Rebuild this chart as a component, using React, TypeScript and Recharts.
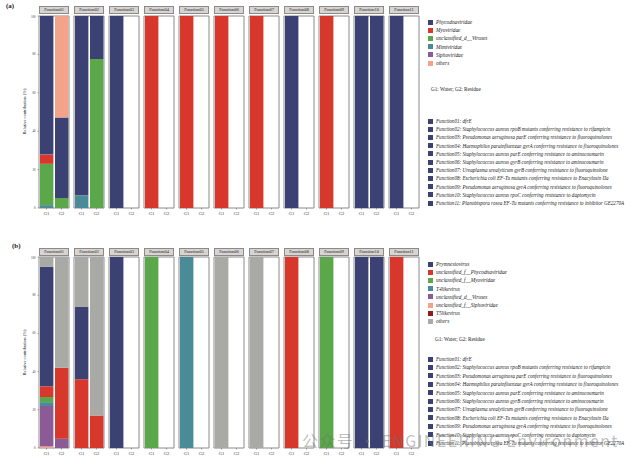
import React from 'react'
import { BarChart, Bar, XAxis, YAxis, ReferenceArea } from 'recharts'

const functions = ['Function01', 'Function02', 'Function03', 'Function04', 'Function05', 'Function06', 'Function07', 'Function08', 'Function09', 'Function10', 'Function11']
const groups = ['G1', 'G2']
const yTicks = [0, 20, 40, 60, 80, 100]

const functionNames = [
  'Function01: dfrE',
  'Function02: Staphylococcus aureus rpoB mutants conferring resistance to rifampicin',
  'Function03: Pseudomonas aeruginosa parE conferring resistance to fluoroquinolones',
  'Function04: Haemophilus parainfluenzae gyrA conferring resistance to fluoroquinolones',
  'Function05: Staphylococcus aureus parE conferring resistance to aminocoumarin',
  'Function06: Staphylococcus aureus gyrB conferring resistance to aminocoumarin',
  'Function07: Ureaplasma urealyticum gyrB conferring resistance to fluoroquinolone',
  'Function08: Escherichia coli EF-Tu mutants conferring resistance to Enacyloxin IIa',
  'Function09: Pseudomonas aeruginosa gyrA conferring resistance to fluoroquinolones',
  'Function10: Staphylococcus aureus rpoC conferring resistance to daptomycin',
  'Function11: Planobispora rosea EF-Tu mutants conferring resistance to inhibitor GE2270A',
]

// panel (a) — values per species, ordered F01G1, F01G2, F02G1, F02G2 ... F11G2
const speciesA = ['Phycodnaviridae', 'Myoviridae', 'unclassified_d__Viruses', 'Mimiviridae', 'Siphoviridae', 'others']
const colorsA = ['#3b4273', '#d8382c', '#5aa84a', '#4a8b97', '#8b5b95', '#f4a38b']
const phycodA = [72.2, 42, 93.4, 22.4, 100, 0, 0, 0, 0, 0, 0, 0, 0, 0, 100, 0, 0, 0, 100, 100, 100, 0]
const myoA = [4.8, 0, 0, 0, 0, 0, 100, 0, 100, 0, 100, 0, 100, 0, 0, 0, 100, 0, 0, 0, 0, 0]
const unclVirA = [21.5, 5.2, 0, 77.6, 0, 0, 0, 0, 0, 0, 0, 0, 0, 0, 0, 0, 0, 0, 0, 0, 0, 0]
const mimiA = [1.5, 0, 6.6, 0, 0, 0, 0, 0, 0, 0, 0, 0, 0, 0, 0, 0, 0, 0, 0, 0, 0, 0]
const siphoA = [0, 0, 0, 0, 0, 0, 0, 0, 0, 0, 0, 0, 0, 0, 0, 0, 0, 0, 0, 0, 0, 0]
const othersA = [0, 52.8, 0, 0, 0, 0, 0, 0, 0, 0, 0, 0, 0, 0, 0, 0, 0, 0, 0, 0, 0, 0]
const seriesA = [phycodA, myoA, unclVirA, mimiA, siphoA, othersA]
const stackOrderA = [4, 3, 2, 1, 0, 5] // bottom -> top

// panel (b)
const speciesB = ['Prymnesiovirus', 'unclassified_f__Phycodnaviridae', 'unclassified_f__Myoviridae', 'T4likevirus', 'unclassified_d__Viruses', 'unclassified_f__Siphoviridae', 'T5likevirus', 'others']
const colorsB = ['#3b4273', '#d8382c', '#5aa84a', '#4a8b97', '#8b5b95', '#f4a38b', '#8c1d1d', '#a9a9a5']
const prymB = [62.5, 0, 37.8, 0, 100, 0, 0, 0, 0, 0, 0, 0, 0, 0, 0, 0, 0, 0, 100, 100, 0, 0]
const unclPhycoB = [5.6, 37.1, 36, 17, 0, 0, 0, 0, 0, 0, 0, 0, 0, 0, 100, 0, 0, 0, 0, 0, 100, 0]
const unclMyoB = [2.7, 0, 0, 0, 0, 0, 100, 0, 0, 0, 0, 0, 0, 0, 0, 0, 100, 0, 0, 0, 0, 0]
const t4B = [2, 0, 0, 0, 0, 0, 0, 0, 100, 0, 0, 0, 0, 0, 0, 0, 0, 0, 0, 0, 0, 0]
const unclVirB = [21.2, 4.9, 0, 0, 0, 0, 0, 0, 0, 0, 0, 0, 0, 0, 0, 0, 0, 0, 0, 0, 0, 0]
const unclSiphoB = [0.8, 0, 0, 0, 0, 0, 0, 0, 0, 0, 0, 0, 0, 0, 0, 0, 0, 0, 0, 0, 0, 0]
const t5B = [0, 0, 0, 0, 0, 0, 0, 0, 0, 0, 0, 0, 0, 0, 0, 0, 0, 0, 0, 0, 0, 0]
const othersB = [5.2, 58, 26.2, 83, 0, 0, 0, 0, 0, 0, 100, 0, 100, 0, 0, 0, 0, 0, 0, 0, 0, 0]
const seriesB = [prymB, unclPhycoB, unclMyoB, t4B, unclVirB, unclSiphoB, t5B, othersB]
const stackOrderB = [6, 5, 4, 3, 2, 1, 0, 7]

const serif = '"Liberation Serif", "DejaVu Serif", serif'
const FX = 39
const PITCH = 35
const FW = 30
const YW = 10

function Facet({ idx, names, colors, series, order, top, plotH }: any) {
  const first = idx === 0
  const data = groups.map((g, j) => {
    const row: any = { g }
    names.forEach((n: string, s: number) => { row[n] = series[s][idx * 2 + j] })
    return row
  })
  const yW = first ? YW : 0
  return (
    <div style={{ position: 'absolute', left: FX + idx * PITCH - 1 - yW, top: top - 1 }}>
      <BarChart width={FW + 2 + yW} height={plotH + 11} data={data} margin={{ top: 1, right: 1, left: 1, bottom: 0 }} barSize={13.4}>
        <XAxis dataKey="g" interval={0} height={10} axisLine={false} tickSize={1.5}
          tickLine={{ stroke: '#555', strokeWidth: 0.5 }}
          tick={{ fontSize: 4.5, fill: '#333', fontFamily: serif }} />
        <YAxis hide={!first} width={yW} domain={[0, 100]} ticks={yTicks} axisLine={false} tickSize={1.5}
          tickLine={{ stroke: '#555', strokeWidth: 0.5 }}
          tick={{ fontSize: 3, fill: '#333', fontFamily: serif }} />
        {order.map((s: number) => (
          <Bar key={names[s]} dataKey={names[s]} stackId="s" fill={colors[s]} isAnimationActive={false} />
        ))}
        <ReferenceArea y1={0} y2={100} fill="none" fillOpacity={0} stroke="#8a8a8a" strokeWidth={1} ifOverflow="visible" />
      </BarChart>
    </div>
  )
}

function Panel({ label, labelX, labelY, stripTop, plotTop, plotH, names, colors, series, order, legendY, noteY, noteX, funcY, funcStep }: any) {
  return (
    <>
      <div style={{ position: 'absolute', left: labelX, top: labelY, fontSize: 7, fontWeight: 'bold', fontFamily: serif, color: '#222' }}>{label}</div>
      <div style={{ position: 'absolute', left: 24 - 60, top: plotTop + plotH / 2 - 3, width: 120, textAlign: 'center', fontSize: 4.5, fontFamily: serif, color: '#222', transform: 'rotate(-90deg)' }}>Relative contribution (%)</div>
      {functions.map((f, i) => (
        <div key={f} style={{ position: 'absolute', left: FX + i * PITCH, top: stripTop, width: FW - 2, height: 6, border: '1px solid #8a8a8a', background: '#d7d4d1', fontSize: 4.3, lineHeight: '6px', textAlign: 'center', fontFamily: serif, color: '#222', whiteSpace: 'nowrap', overflow: 'hidden' }}>{f}</div>
      ))}
      {functions.map((f, i) => (
        <Facet key={f} idx={i} names={names} colors={colors} series={series} order={order} top={plotTop} plotH={plotH} />
      ))}
      {names.map((n: string, i: number) => (
        <div key={n} style={{ position: 'absolute', left: 428, top: legendY + i * 8.2 - 3, height: 6, display: 'flex', alignItems: 'center', whiteSpace: 'nowrap' }}>
          <div style={{ width: 5, height: 5, background: colors[i], marginRight: 3 }} />
          <span style={{ fontSize: 5.3, fontStyle: 'italic', fontFamily: serif, color: '#222' }}>{n}</span>
        </div>
      ))}
      <div style={{ position: 'absolute', left: noteX, top: noteY - 3, fontSize: 5.2, fontFamily: serif, color: '#222', whiteSpace: 'nowrap' }}>G1: Water; G2: Residue</div>
      {functionNames.map((n, i) => (
        <div key={n} style={{ position: 'absolute', left: 428, top: funcY + i * funcStep - 3, height: 6, display: 'flex', alignItems: 'center', whiteSpace: 'nowrap' }}>
          <div style={{ width: 5, height: 5, background: '#3b4273', marginRight: 3 }} />
          <span style={{ fontSize: 5.1, fontStyle: 'italic', fontFamily: serif, color: '#222' }}>{n}</span>
        </div>
      ))}
    </>
  )
}

export default function App() {
  return (
    <div style={{ position: 'absolute', left: 0, top: 0, width: 639, height: 468, background: '#fff', overflow: 'hidden' }}>
      <Panel label="(a)" labelX={6} labelY={2} stripTop={6} plotTop={16} plotH={192}
        names={speciesA} colors={colorsA} series={seriesA} order={stackOrderA}
        legendY={22} noteX={431} noteY={89} funcY={121} funcStep={8.2} />
      <Panel label="(b)" labelX={12} labelY={242} stripTop={248} plotTop={257} plotH={191}
        names={speciesB} colors={colorsB} series={seriesB} order={stackOrderB}
        legendY={264} noteX={435} noteY={339} funcY={359} funcStep={8.4} />
      <div style={{ position: 'absolute', left: 302, top: 428, fontSize: 16, letterSpacing: 1.4, fontFamily: '"Noto Sans CJK SC", "DejaVu Sans", sans-serif', color: 'rgba(110,110,110,0.45)', whiteSpace: 'nowrap' }}>公众号 · ENGINEERING Environment</div>
    </div>
  )
}
